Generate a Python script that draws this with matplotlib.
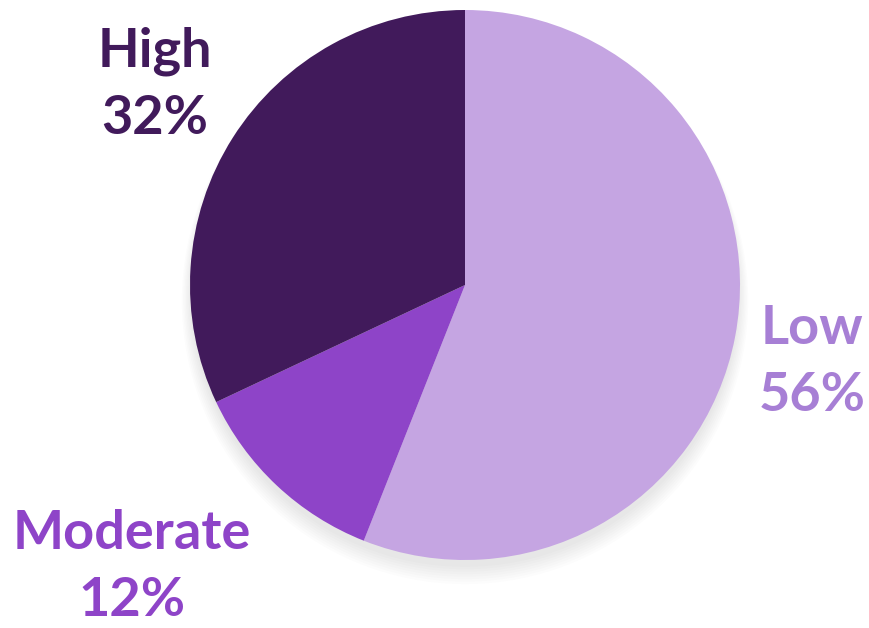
import matplotlib
matplotlib.use('Agg')
import matplotlib.pyplot as plt
from matplotlib.patches import Circle

# Risk level distribution
levels = ['Low', 'Moderate', 'High']
shares = [56, 12, 32]
slice_colors = ['#C5A5E2', '#8E44C8', '#411A5B']
label_colors = ['#A77FD5', '#8E44C8', '#411A5B']

W, H = 870, 628
fig = plt.figure(figsize=(W / 100, H / 100), dpi=100)
fig.patch.set_facecolor('white')

# pie centre (465, 285) px, radius 275 px
cx, cy, r = 465, 285, 275
ax = fig.add_axes([(cx - r) / W, (H - cy - r) / H, 2 * r / W, 2 * r / H])
ax.set_xlim(-1.0, 1.0)
ax.set_ylim(-1.0, 1.0)
ax.set_aspect('equal')
ax.axis('off')

# soft drop shadow beneath the pie
for i in range(8):
    ax.add_patch(Circle((0.0, -0.03 - 0.004 * i), 0.995 + 0.005 * i,
                        color='black', alpha=0.012, lw=0, zorder=0,
                        clip_on=False))

ax.pie(shares, colors=slice_colors, startangle=90, counterclock=False,
       radius=1.0, wedgeprops=dict(linewidth=0), frame=False)
ax.set_xlim(-1.0, 1.0)
ax.set_ylim(-1.0, 1.0)

# labels in pixel positions (centre x, centre y)
label_pos = {'Low': (812, 362), 'Moderate': (132, 567), 'High': (155, 85)}
for lvl, pct, col in zip(levels, shares, label_colors):
    x, y = label_pos[lvl]
    fig.text(x / W, 1 - y / H, f'{lvl}\n{pct}%', ha='center', va='center',
             color=col, fontsize=39, fontweight='bold', family='Lato',
             linespacing=1.45)

fig.savefig('out.png', dpi=100, facecolor='white')
